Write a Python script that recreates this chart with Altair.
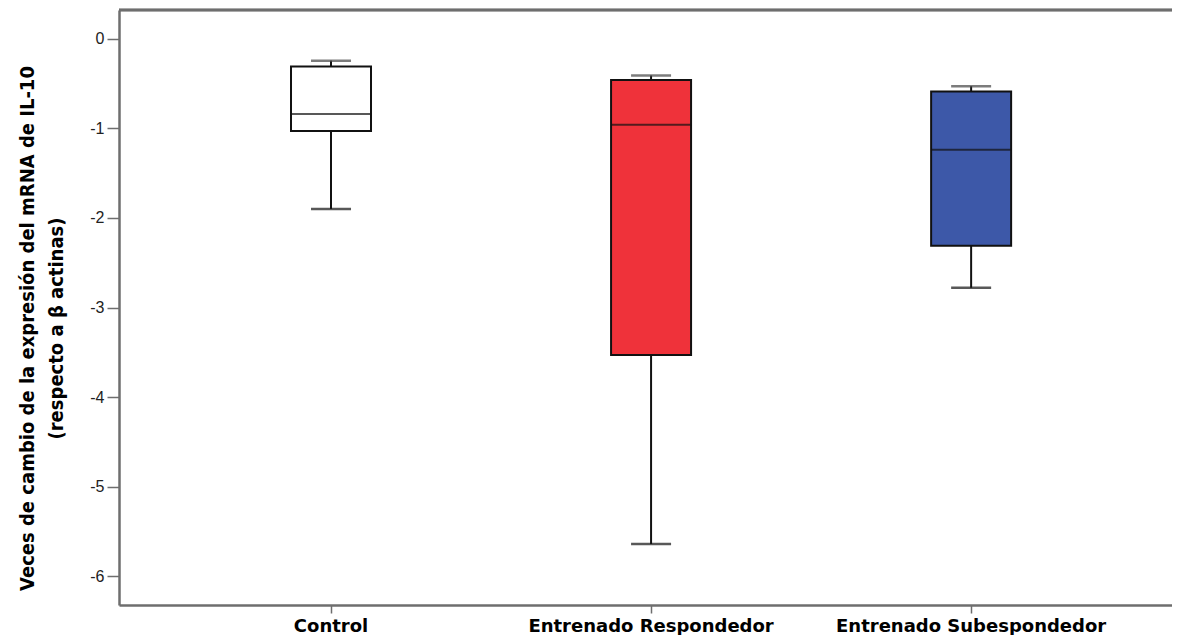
import altair as alt
import pandas as pd

groups = ["Control", "Entrenado Respondedor", "Entrenado Subespondedor"]
whisker_low = [-1.90, -5.64, -2.78]
q1 = [-1.03, -3.53, -2.31]
median = [-0.84, -0.96, -1.24]
q3 = [-0.31, -0.46, -0.59]
whisker_high = [-0.245, -0.41, -0.53]
fills = ["#FFFFFF", "#EF323A", "#3D58A8"]
y_ticks = [0, -1, -2, -3, -4, -5, -6]

df = pd.DataFrame({
    "group": groups,
    "lo": whisker_low,
    "q1": q1,
    "med": median,
    "q3": q3,
    "hi": whisker_high,
})

W, H = 1053, 595
AX = "#6e6e6e"

xenc = alt.X(
    "group:N",
    sort=groups,
    scale=alt.Scale(paddingInner=0, paddingOuter=0.145, align=0.56),
    axis=alt.Axis(
        title=None, labelAngle=0, labelFont="DejaVu Sans", labelFontWeight="bold",
        labelFontSize=18, labelColor="#000000", labelPadding=4, labelLimit=0,
        domainColor=AX, domainWidth=2.5, tickColor=AX, tickWidth=1.5, tickSize=8,
    ),
)
yscale = alt.Scale(domain=[-6.32, 0.32], nice=False, zero=False)
yaxis = alt.Axis(
    values=y_ticks, labelExpr="datum.value + ''", grid=False,
    labelFont="Liberation Sans", labelFontSize=16, labelColor="#222222", labelPadding=3,
    domainColor=AX, domainWidth=2.5, tickColor=AX, tickWidth=1.5, tickSize=12,
    title=["Veces de cambio de la expresión del mRNA de IL-10", "(respecto a β actinas)"],
    titleFont="Liberation Sans Narrow, DejaVu Sans Condensed, Liberation Sans",
    titleFontWeight="bold", titleFontSize=20, titleLineHeight=29, titleColor="#000000",
    titleX=-92, titleY=318, titleBaseline="middle", titleAngle=-90,
)

base = alt.Chart(df)

whiskers = base.mark_rule(color="#111111", strokeWidth=2).encode(
    x=xenc, y=alt.Y("lo:Q", scale=yscale, axis=yaxis), y2="hi:Q"
)
boxes = base.mark_bar(size=80, stroke="#111111", strokeWidth=2).encode(
    x=xenc, y=alt.Y("q1:Q", scale=yscale), y2="q3:Q",
    color=alt.Color("group:N", scale=alt.Scale(domain=groups, range=fills), legend=None),
)
medians = base.mark_tick(size=80, thickness=2, color="#111111", orient="horizontal").encode(
    x=xenc, y=alt.Y("med:Q", scale=yscale)
)
caps_lo = base.mark_tick(size=40, thickness=2.5, color="#111111", orient="horizontal").encode(
    x=xenc, y=alt.Y("lo:Q", scale=yscale)
)
caps_hi = base.mark_tick(size=40, thickness=2.5, color="#444444", orient="horizontal").encode(
    x=xenc, y=alt.Y("hi:Q", scale=yscale)
)
top_border = base.mark_rule(color=AX, strokeWidth=2.5).encode(
    x=alt.value(0), x2=alt.value(W), y=alt.value(0)
)

chart = alt.layer(whiskers, boxes, medians, caps_lo, caps_hi, top_border).properties(
    width=W, height=H,
    autosize=alt.AutoSizeParams(type="none"),
    padding={"left": 111, "top": 2, "right": 0, "bottom": 30},
).configure_view(stroke=None).configure(background="white")

chart.save("out.html", embed_options={"renderer": "svg", "actions": False})
